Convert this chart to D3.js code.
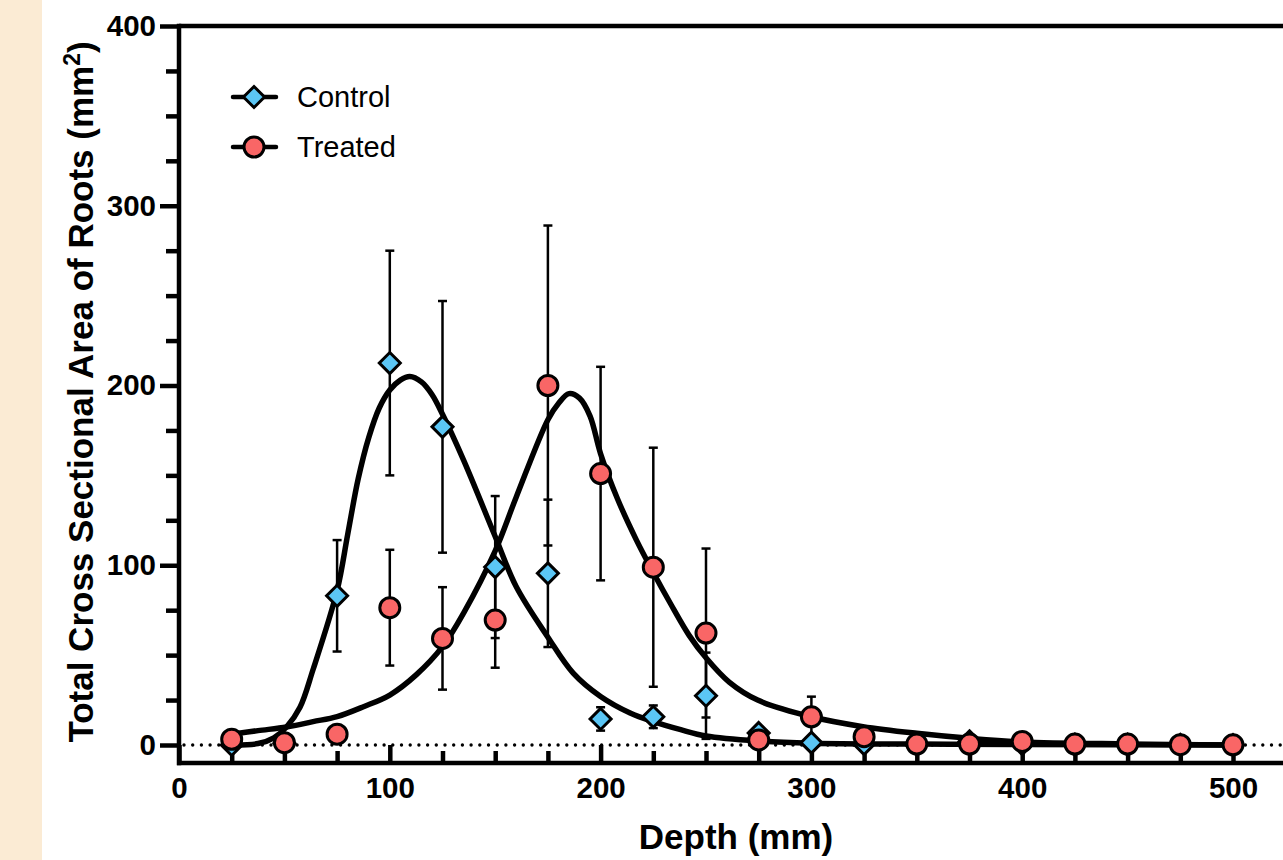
<!DOCTYPE html>
<html>
<head>
<meta charset="UTF-8">
<title>Total Cross Sectional Area of Roots by Depth</title>
<script src="https://d3js.org/d3.v7.min.js"></script>
<style>
  body { margin: 0; background: #fff; }
  svg { display: block; font-family: "Liberation Sans", Arial, sans-serif; }
</style>
</head>
<body>
<svg width="1283" height="860"></svg>
<script>
// depth (mm) of each sample
const depths = [25, 50, 75, 100, 125, 150, 175, 200, 225, 250, 275, 300, 325, 350, 375, 400, 425, 450, 475, 500];

// mean values
const controlMean = [0, 1, 83, 212.5, 177, 99, 95.5, 14.5, 15.7, 27.4, 6.7, 1.3, 0.5, 0.3, 2, 0.5, 0.2, 0.2, 0.1, 0];
const controlErr  = [0, 0, 31, 62.5, 70, 39.5, 41, 6.5, 6.3, 24, 0, 0, 0, 0, 0, 0, 0, 0, 0, 0];
const treatedMean = [3.2, 1.3, 6, 76.4, 59.3, 69.5, 200, 151, 98.9, 62.3, 2.8, 15.7, 4.6, 0.5, 0.5, 2, 0.5, 0.5, 0.2, 0.1];
const treatedErr  = [0, 0, 0, 32.2, 28.5, 26.5, 89, 59.4, 66.5, 47, 0, 11.2, 0, 0, 0, 0, 0, 0, 0, 0];

// fitted curves as [depth, value]
const controlFit = [[25, 0], [37.5, 0.8], [45, 4], [51, 10], [57.4, 21], [63.6, 42], [75, 86], [80, 117],
  [85, 148], [90, 171], [95, 187.5], [100, 197.5], [105, 203], [109.5, 205], [115, 202], [120, 195],
  [125, 184], [135, 158.5], [150, 116], [160, 88], [175, 60], [187, 40], [200, 27], [214, 17.8], [225, 13],
  [238, 8.5], [250, 5], [275, 2.2], [300, 1], [350, 0.5], [400, 0.3], [500, 0]];
const treatedFit = [[25, 6], [37.5, 8], [51, 10], [63.6, 13], [75, 15.8], [87.5, 21.3], [100, 27.8],
  [112.5, 39], [125, 54.7], [135, 73.4], [150, 108], [160, 138], [175, 181], [180, 190], [185, 195.5],
  [190, 193], [195, 183], [200, 162], [208, 137], [217, 114], [225, 96], [233, 79], [242, 61], [250, 48.5],
  [261, 35], [274.5, 25], [300, 15.7], [324.5, 10.2], [350, 6.5], [375, 3.7], [400, 1.7], [450, 0.6], [500, 0]];

const xMajor = [0, 100, 200, 300, 400, 500];
const xMinor = d3.range(25, 525, 25).filter(v => v % 100 !== 0);
const yMajor = [0, 100, 200, 300, 400];
const yMinor = d3.range(25, 400, 25).filter(v => v % 100 !== 0);

const seriesNames = ["Control", "Treated"];

const svg = d3.select("svg");
const blue = "#5BC6F5", red = "#F96666";

// beige strip on the left
svg.append("rect").attr("x", 0).attr("y", 0).attr("width", 42).attr("height", 860).attr("fill", "#FBEBD4");

const x = d3.scaleLinear().domain([0, 525]).range([179, 179 + 525 * 2.108]);
const y = d3.scaleLinear().domain([0, 400]).range([745, 26]);
const axisY = 763;

// zero reference line (dotted)
svg.append("line")
  .attr("x1", 184).attr("x2", 1283)
  .attr("y1", y(0)).attr("y2", y(0))
  .attr("stroke", "#000").attr("stroke-width", 3.4)
  .attr("stroke-dasharray", "0,8.7").attr("stroke-linecap", "round");

// x axis: ticks point up
const gx = svg.append("g").attr("transform", `translate(0,${axisY})`);
gx.call(d3.axisBottom(x).tickValues(xMajor).tickSizeInner(-18).tickSizeOuter(0).tickPadding(14));
const gxm = svg.append("g").attr("transform", `translate(0,${axisY})`);
gxm.call(d3.axisBottom(x).tickValues(xMinor).tickSizeInner(-12).tickSizeOuter(0).tickFormat(""));

// y axis
const gy = svg.append("g").attr("transform", "translate(179,0)");
gy.call(d3.axisLeft(y).tickValues(yMajor).tickSizeInner(19).tickSizeOuter(0).tickPadding(4));
const gym = svg.append("g").attr("transform", "translate(179,0)");
gym.call(d3.axisLeft(y).tickValues(yMinor).tickSizeInner(13).tickSizeOuter(0).tickFormat(""));

svg.selectAll(".domain").remove();
svg.selectAll(".tick line").attr("stroke", "#000").attr("stroke-width", 4.5);
svg.selectAll(".tick text").attr("fill", "#000").attr("font-size", 29.5).attr("font-weight", "bold")
  .attr("font-family", "'Liberation Sans', Arial, sans-serif");

// axis lines and top frame
svg.append("line").attr("x1", 179).attr("x2", 179).attr("y1", y(400) - 2.25).attr("y2", axisY + 2.25)
  .attr("stroke", "#000").attr("stroke-width", 4.5);
svg.append("line").attr("x1", 177).attr("x2", 1283).attr("y1", axisY).attr("y2", axisY)
  .attr("stroke", "#000").attr("stroke-width", 4.5);
svg.append("line").attr("x1", 179).attr("x2", 1283).attr("y1", y(400)).attr("y2", y(400))
  .attr("stroke", "#000").attr("stroke-width", 4.5);

// axis titles
svg.append("text")
  .attr("x", 736).attr("y", 849)
  .attr("text-anchor", "middle")
  .attr("font-size", 35).attr("font-weight", "bold")
  .text("Depth (mm)");

const yt = svg.append("text")
  .attr("transform", "translate(93,392) rotate(-90)")
  .attr("text-anchor", "middle")
  .attr("font-size", 35).attr("font-weight", "bold");
yt.append("tspan").text("Total Cross Sectional Area of Roots (mm");
yt.append("tspan").attr("dy", -13).attr("font-size", 23).text("2");
yt.append("tspan").attr("dy", 13).text(")");

// error bars
function errorBars(means, errs, cls) {
  const rows = depths.map((d, i) => ({ d, m: means[i], e: errs[i] })).filter(r => r.e > 0);
  const g = svg.append("g").attr("class", cls).attr("stroke", "#000").attr("stroke-width", 2.5);
  rows.forEach(r => {
    g.append("line").attr("x1", x(r.d)).attr("x2", x(r.d)).attr("y1", y(r.m - r.e)).attr("y2", y(r.m + r.e));
    g.append("line").attr("x1", x(r.d) - 4.5).attr("x2", x(r.d) + 4.5).attr("y1", y(r.m + r.e)).attr("y2", y(r.m + r.e));
    g.append("line").attr("x1", x(r.d) - 4.5).attr("x2", x(r.d) + 4.5).attr("y1", y(r.m - r.e)).attr("y2", y(r.m - r.e));
  });
}
errorBars(controlMean, controlErr, "err-control");
errorBars(treatedMean, treatedErr, "err-treated");

// fitted curves
const line = d3.line().x(d => x(d[0])).y(d => y(d[1])).curve(d3.curveCatmullRom.alpha(0.5));
[controlFit, treatedFit].forEach(fit => {
  svg.append("path").attr("d", line(fit))
    .attr("fill", "none").attr("stroke", "#000").attr("stroke-width", 5.5)
    .attr("stroke-linejoin", "round").attr("stroke-linecap", "round");
});

// markers
const diamond = "M0,-10.5L10.5,0L0,10.5L-10.5,0Z";
svg.append("g").selectAll("path")
  .data(depths.map((d, i) => [d, controlMean[i]]))
  .join("path")
  .attr("d", diamond)
  .attr("transform", d => `translate(${x(d[0])},${y(d[1])})`)
  .attr("fill", blue).attr("stroke", "#000").attr("stroke-width", 3).attr("stroke-linejoin", "miter");

svg.append("g").selectAll("circle")
  .data(depths.map((d, i) => [d, treatedMean[i]]))
  .join("circle")
  .attr("cx", d => x(d[0])).attr("cy", d => y(d[1]))
  .attr("r", 10)
  .attr("fill", red).attr("stroke", "#000").attr("stroke-width", 3);

// legend
const legend = svg.append("g");
seriesNames.forEach((name, i) => {
  const ly = 97 + i * 50;
  legend.append("line").attr("x1", 233).attr("x2", 276).attr("y1", ly).attr("y2", ly)
    .attr("stroke", "#000").attr("stroke-width", 4.5).attr("stroke-linecap", "round");
  if (i === 0) {
    legend.append("path").attr("d", diamond).attr("transform", `translate(254,${ly})`)
      .attr("fill", blue).attr("stroke", "#000").attr("stroke-width", 3);
  } else {
    legend.append("circle").attr("cx", 254).attr("cy", ly).attr("r", 10)
      .attr("fill", red).attr("stroke", "#000").attr("stroke-width", 3);
  }
  legend.append("text").attr("x", 297).attr("y", ly).attr("dy", "0.35em")
    .attr("font-size", 29).text(name);
});
</script>
</body>
</html>
